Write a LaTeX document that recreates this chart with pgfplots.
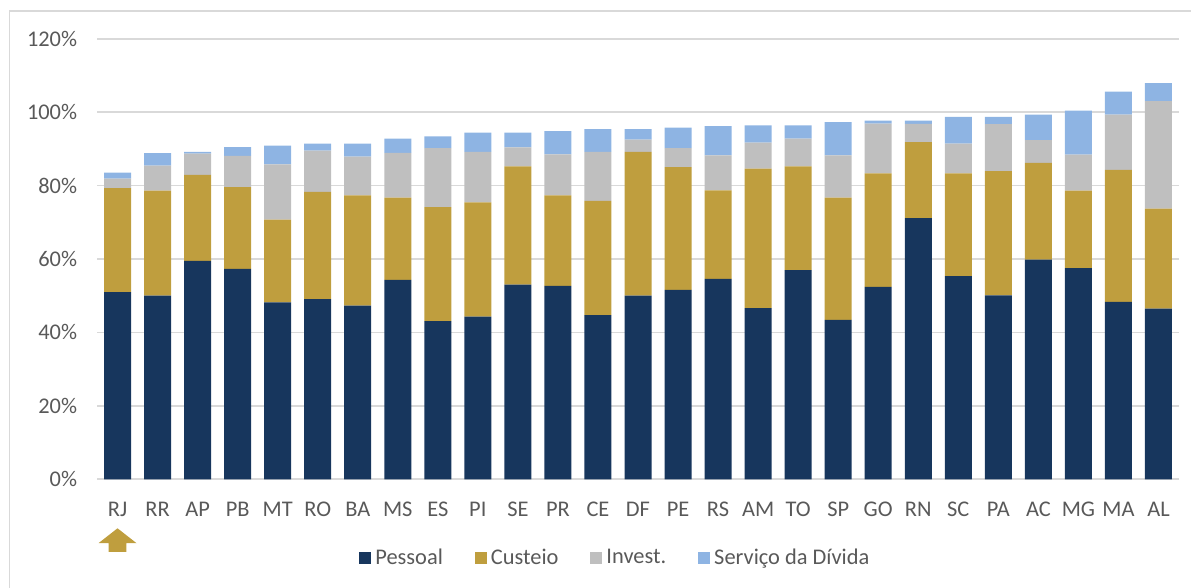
\documentclass[border=0pt]{standalone}
\usepackage{fontspec}
\setmainfont{Carlito}
\usepackage{pgfplots}
\usepackage{pgfplotstable}
\pgfplotsset{compat=1.18}
\definecolor{navy}{RGB}{23,54,93}
\definecolor{gold}{RGB}{191,158,62}
\definecolor{greyinv}{RGB}{191,191,191}
\definecolor{lblue}{RGB}{142,180,227}
\definecolor{txt}{RGB}{89,89,89}
\definecolor{gridc}{RGB}{217,217,217}
\pgfplotstableread{
name P C I D
RJ 51.0 28.3 2.6 1.6
RR 50.0 28.6 6.8 3.4
AP 59.5 23.4 5.8 0.5
PB 57.3 22.3 8.5 2.4
MT 48.2 22.5 15.1 5.1
RO 49.1 29.2 11.2 1.9
BA 47.3 30.0 10.6 3.5
MS 54.3 22.4 12.2 3.9
ES 43.1 31.0 16.1 3.2
PI 44.3 31.1 13.8 5.2
SE 53.0 32.2 5.2 4.0
PR 52.7 24.6 11.2 6.3
CE 44.7 31.1 13.4 6.2
DF 50.0 39.2 3.3 2.9
PE 51.6 33.4 5.2 5.6
RS 54.6 24.1 9.5 8.0
AM 46.6 38.0 7.1 4.7
TO 57.0 28.2 7.6 3.6
SP 43.4 33.3 11.5 9.1
GO 52.4 30.9 13.6 0.8
RN 71.1 20.7 5.0 0.9
SC 55.3 28.0 8.1 7.3
PA 50.1 33.8 12.8 2.0
AC 59.8 26.4 6.2 6.9
MG 57.5 21.1 9.8 12.0
MA 48.3 36.0 15.0 6.3
AL 46.5 27.2 29.3 4.9
}\datatable
\pgfplotsset{sqlegend/.style={legend image code/.code={\fill[##1] (0pt,-3pt) rectangle (6pt,3pt);}}}
\begin{document}
\begin{tikzpicture}
\path[use as bounding box] (0,0) rectangle (595.5pt,294pt);
\draw[gridc, line width=0.9pt] (4.75pt,-2pt) -- (4.75pt,288.5pt) -- (597pt,288.5pt);
\begin{axis}[
  at={(48.75pt,54.35pt)}, anchor=south west,
  scale only axis, width=540.5pt, height=220.3pt,
  ybar stacked, bar width=13.5pt,
  xmin=-0.5, xmax=26.5, ymin=0, ymax=120,
  xtick={0,...,26},
  xticklabels={RJ,RR,AP,PB,MT,RO,BA,MS,ES,PI,SE,PR,CE,DF,PE,RS,AM,TO,SP,GO,RN,SC,PA,AC,MG,MA,AL},
  ytick={0,20,...,120},
  yticklabels={0\%,20\%,40\%,60\%,80\%,100\%,120\%},
  axis line style={draw=none}, tick style={draw=none},
  ymajorgrids, major grid style={gridc, line width=0.9pt},
  xticklabel style={font=\fontsize{11.2pt}{13pt}\selectfont, text=txt, anchor=base, inner sep=0pt, yshift=-18.7pt},
  yticklabel style={font=\fontsize{11.2pt}{13pt}\selectfont, text=txt, anchor=east, inner sep=0pt, xshift=-10pt},
  clip=false,
  legend style={at={(0.48,-0.1786)}, anchor=center, draw=none, fill=none,
    font=\fontsize{11.2pt}{13pt}\selectfont, text=txt,
    /tikz/every even column/.append style={column sep=14pt}},
  legend columns=-1,
]
\addplot[fill=navy, draw=none, sqlegend] table[x expr=\coordindex, y=P] {\datatable};
\addplot[fill=gold, draw=none, sqlegend] table[x expr=\coordindex, y=C] {\datatable};
\addplot[fill=greyinv, draw=none, sqlegend] table[x expr=\coordindex, y=I] {\datatable};
\addplot[fill=lblue, draw=none, sqlegend] table[x expr=\coordindex, y=D] {\datatable};
\legend{Pessoal,Custeio,Invest.,Serviço da Dívida}
\fill[gold] (axis cs:0,-13.35) -- (axis cs:0.475,-17.4) -- (axis cs:0.22,-17.4) -- (axis cs:0.22,-19.75) -- (axis cs:-0.22,-19.75) -- (axis cs:-0.22,-17.4) -- (axis cs:-0.475,-17.4) -- cycle;
\end{axis}
\end{tikzpicture}
\end{document}
